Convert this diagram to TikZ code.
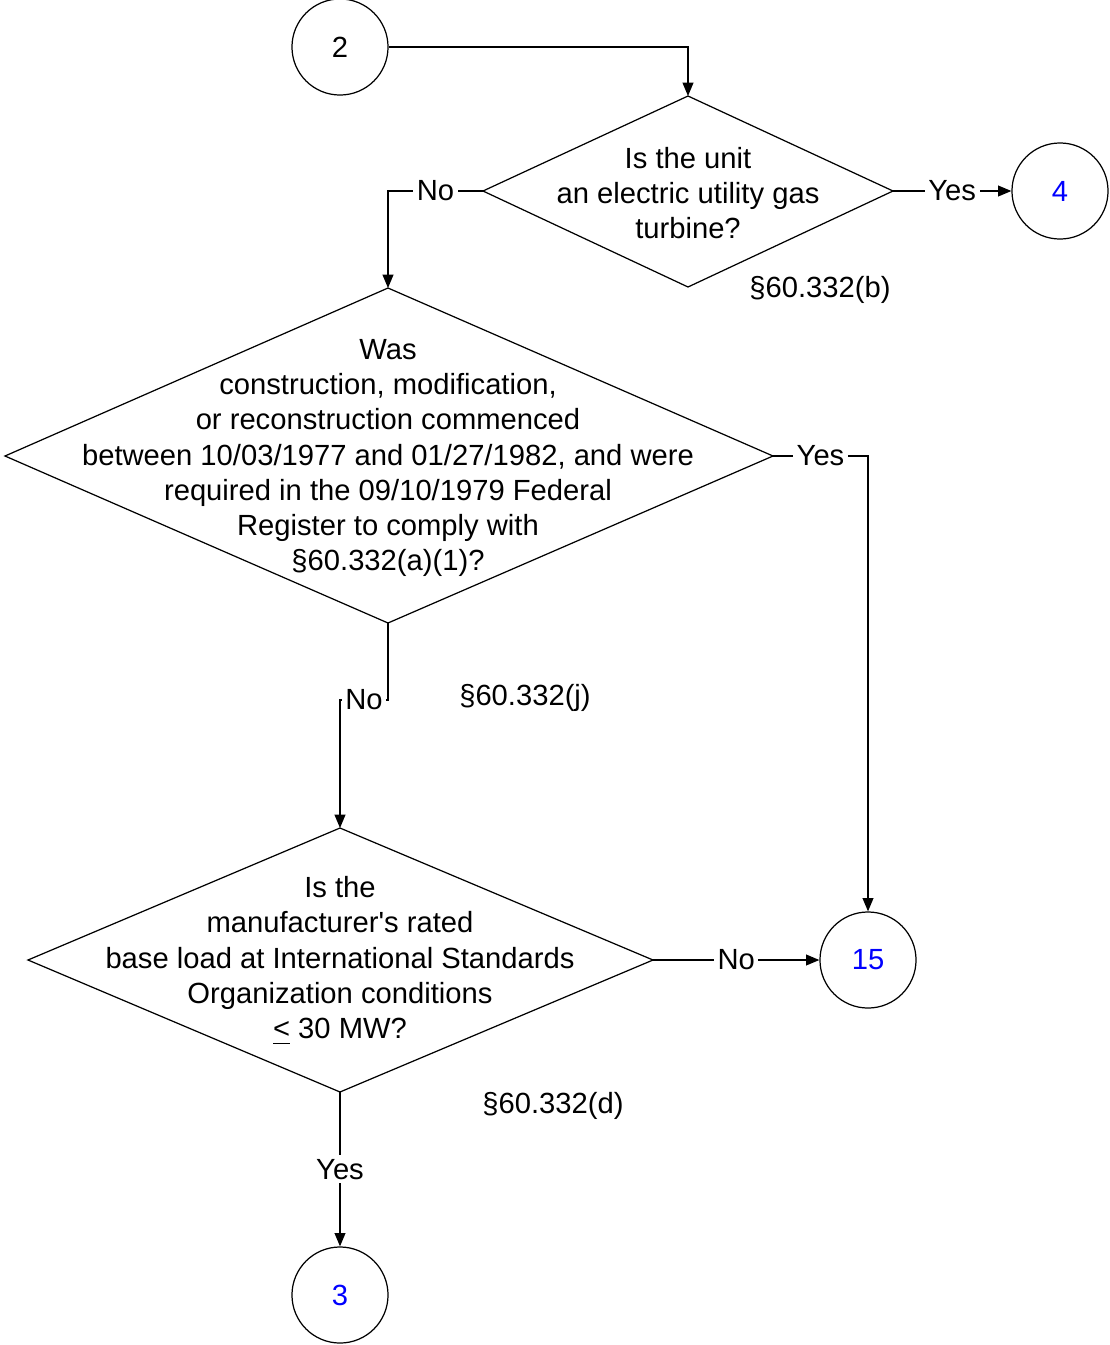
\documentclass[tikz,border=0pt]{standalone}
\usepackage{fontspec}
\setmainfont{Liberation Sans}[Ligatures=TeXOff]
\usetikzlibrary{arrows.meta}
\definecolor{linkblue}{RGB}{0,0,255}
\begin{document}
\begin{tikzpicture}[x=0.01cm,y=-0.01cm,
  every node/.style={font=\fontsize{8.3}{10}\selectfont},
  line/.style={draw, line width=0.35pt},
  conn/.style={line, -{Triangle[length=3.8pt,width=3.1pt]}},
  circ/.style={circle, draw, line width=0.35pt, minimum size=0.96cm, inner sep=0pt},
  lbl/.style={fill=white, inner sep=1pt},
  txt/.style={align=center, inner sep=0pt},
  link/.style={text=linkblue}]
\useasboundingbox (0,0) rectangle (1110,1345);

% circles
\node[circ] (c2) at (340,47) {2};
\node[circ, link] (c4) at (1060,191) {4};
\node[circ, link] (c15) at (868,960) {15};
\node[circ, link] (c3) at (340,1295) {3};

% diamond 1
\coordinate (d1t) at (688,96);
\coordinate (d1r) at (893,191);
\coordinate (d1b) at (688,287);
\coordinate (d1l) at (483,191);
\draw[line] (d1t) -- (d1r) -- (d1b) -- (d1l) -- cycle;
\node[txt] (q1) at (688,193) {Is the unit\\an electric utility gas\\turbine?};

% diamond 2
\coordinate (d2t) at (388,288);
\coordinate (d2r) at (773,456);
\coordinate (d2b) at (388,623);
\coordinate (d2l) at (5,456);
\draw[line] (d2t) -- (d2r) -- (d2b) -- (d2l) -- cycle;
\node[txt] (q2) at (388,458) {Was\\construction, modification,\\or reconstruction commenced\\between 10/03/1977 and 01/27/1982, and were\\required in the 09/10/1979 Federal\\Register to comply with\\§60.332(a)(1)?};

% diamond 3
\coordinate (d3t) at (340,828);
\coordinate (d3r) at (653,960);
\coordinate (d3b) at (340,1092);
\coordinate (d3l) at (28,960);
\draw[line] (d3t) -- (d3r) -- (d3b) -- (d3l) -- cycle;
\node[txt] (q3) at (340,961) {Is the\\manufacturer's rated\\base load at International Standards\\Organization conditions\\\underline{<} 30 MW?};

% references
\node (r1) at (820,290) {§60.332(b)};
\node (r2) at (525,698) {§60.332(j)};
\node (r3) at (553,1106) {§60.332(d)};

% connectors
\draw[conn] (c2.east) -| (d1t);
\draw[conn] (d1r) -- node[lbl] {Yes} (c4.west);
\draw[conn] (d1l) -| node[lbl, pos=0.25] {No} (d2t);
\draw[conn] (d2r) -| node[lbl, pos=0.25] {Yes} (c15.north);
\coordinate (j1) at (388,700);
\coordinate (j2) at (340,700);
\draw[conn] (d2b) -- (j1) -- node[lbl] {No} (j2) -- (d3t);
\draw[conn] (d3r) -- node[lbl] {No} (c15.west);
\draw[conn] (d3b) -- node[lbl] {Yes} (c3.north);
\end{tikzpicture}
\end{document}
